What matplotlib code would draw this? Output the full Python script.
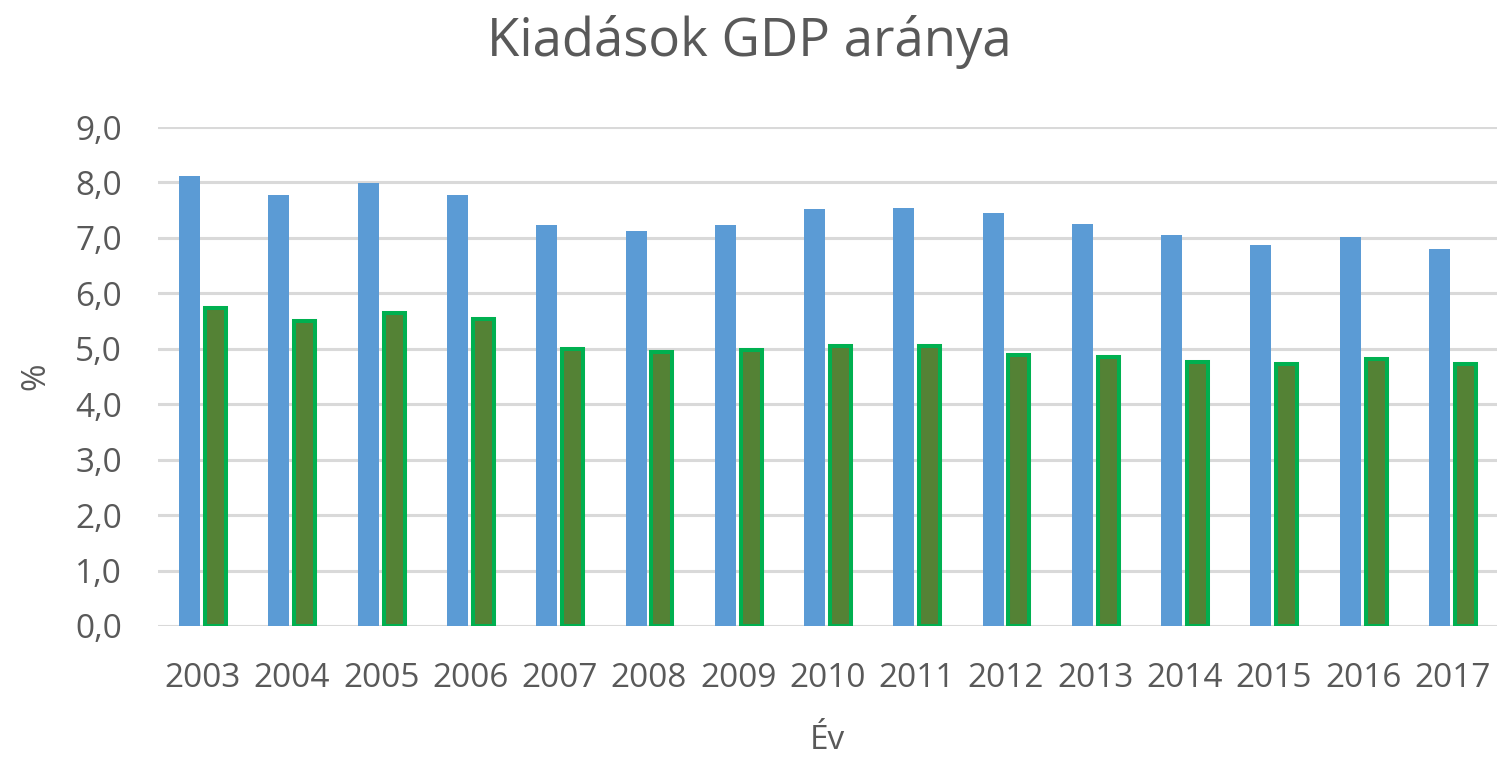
import matplotlib
matplotlib.use("Agg")
import matplotlib.pyplot as plt
import numpy as np

years = ["2003", "2004", "2005", "2006", "2007", "2008", "2009", "2010",
         "2011", "2012", "2013", "2014", "2015", "2016", "2017"]
series_blue = [8.11, 7.77, 7.99, 7.77, 7.23, 7.12, 7.24, 7.52, 7.54, 7.45,
               7.25, 7.06, 6.88, 7.02, 6.80]
series_green = [5.73, 5.50, 5.65, 5.54, 5.00, 4.94, 4.98, 5.05, 5.05, 4.89,
                4.85, 4.77, 4.73, 4.81, 4.73]
yticks = [0, 1, 2, 3, 4, 5, 6, 7, 8, 9]
ytick_labels = ["0,0", "1,0", "2,0", "3,0", "4,0", "5,0", "6,0", "7,0", "8,0", "9,0"]

plt.rcParams['font.family'] = ['Open Sans', 'DejaVu Sans']
txt = "#595959"

fig = plt.figure(figsize=(14.99, 7.57), dpi=100)
ax = fig.add_axes([158/1499, 1 - 626/757, (1497-158)/1499, (626-127)/757])

x = np.arange(len(years))
w = 0.235
off = 0.145
ax.bar(x - off, series_blue, width=w, color="#5B9BD5", zorder=3)
ax.bar(x + off, series_green, width=w, color="#548235", edgecolor="#00B050",
       linewidth=2.9, zorder=3)

ax.set_xlim(-0.5, len(years) - 0.5)
ax.set_ylim(0, 9)
ax.set_yticks(yticks)
ax.set_yticklabels(ytick_labels)
ax.set_xticks(x)
ax.set_xticklabels(years)
ax.yaxis.grid(True, color="#D9D9D9", linewidth=2.2, zorder=0)
ax.set_axisbelow(True)
for s in ax.spines.values():
    s.set_visible(False)
ax.tick_params(axis="both", length=0, labelsize=24, colors=txt)
ax.tick_params(axis="y", pad=26)
ax.tick_params(axis="x", pad=26)

ax.set_xlabel("Év", fontsize=24, color=txt, labelpad=21)
ax.set_ylabel("%", fontsize=24, color=txt, labelpad=16)
fig.text(0.5, 1 - 42/757, "Kiadások GDP aránya", ha="center", va="center",
         fontsize=38, color=txt)

fig.savefig("out.png", dpi=100)
